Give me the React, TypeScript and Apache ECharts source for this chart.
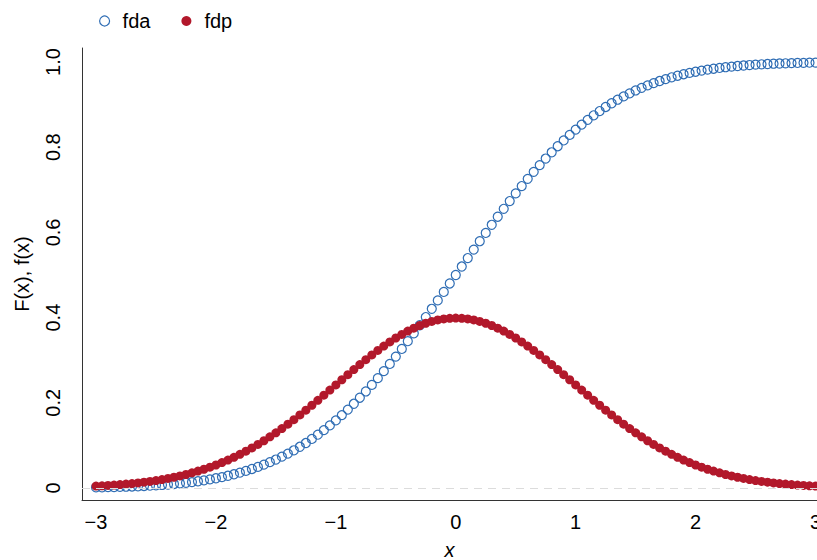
import React, { useEffect, useRef } from "react";
import * as echarts from "echarts";

// Grid of x values, step 0.05 from -3 to 3
const xs = [
  -3.0, -2.95, -2.9, -2.85, -2.8, -2.75, -2.7, -2.65, -2.6, -2.55,
  -2.5, -2.45, -2.4, -2.35, -2.3, -2.25, -2.2, -2.15, -2.1, -2.05,
  -2.0, -1.95, -1.9, -1.85, -1.8, -1.75, -1.7, -1.65, -1.6, -1.55,
  -1.5, -1.45, -1.4, -1.35, -1.3, -1.25, -1.2, -1.15, -1.1, -1.05,
  -1.0, -0.95, -0.9, -0.85, -0.8, -0.75, -0.7, -0.65, -0.6, -0.55,
  -0.5, -0.45, -0.4, -0.35, -0.3, -0.25, -0.2, -0.15, -0.1, -0.05,
  0.0,
  0.05, 0.1, 0.15, 0.2, 0.25, 0.3, 0.35, 0.4, 0.45, 0.5,
  0.55, 0.6, 0.65, 0.7, 0.75, 0.8, 0.85, 0.9, 0.95, 1.0,
  1.05, 1.1, 1.15, 1.2, 1.25, 1.3, 1.35, 1.4, 1.45, 1.5,
  1.55, 1.6, 1.65, 1.7, 1.75, 1.8, 1.85, 1.9, 1.95, 2.0,
  2.05, 2.1, 2.15, 2.2, 2.25, 2.3, 2.35, 2.4, 2.45, 2.5,
  2.55, 2.6, 2.65, 2.7, 2.75, 2.8, 2.85, 2.9, 2.95, 3.0,
];

// fda: cumulative distribution F(x)
const fda = [
  0.0013, 0.0016, 0.0019, 0.0022, 0.0026, 0.003, 0.0035, 0.004, 0.0047, 0.0054,
  0.0062, 0.0071, 0.0082, 0.0094, 0.0107, 0.0122, 0.0139, 0.0158, 0.0179, 0.0202,
  0.0228, 0.0256, 0.0287, 0.0322, 0.0359, 0.0401, 0.0446, 0.0495, 0.0548, 0.0606,
  0.0668, 0.0735, 0.0808, 0.0885, 0.0968, 0.1056, 0.1151, 0.1251, 0.1357, 0.1469,
  0.1587, 0.1711, 0.1841, 0.1977, 0.2119, 0.2266, 0.242, 0.2578, 0.2743, 0.2912,
  0.3085, 0.3264, 0.3446, 0.3632, 0.3821, 0.4013, 0.4207, 0.4404, 0.4602, 0.4801,
  0.5,
  0.5199, 0.5398, 0.5596, 0.5793, 0.5987, 0.6179, 0.6368, 0.6554, 0.6736, 0.6915,
  0.7088, 0.7257, 0.7422, 0.758, 0.7734, 0.7881, 0.8023, 0.8159, 0.8289, 0.8413,
  0.8531, 0.8643, 0.8749, 0.8849, 0.8944, 0.9032, 0.9115, 0.9192, 0.9265, 0.9332,
  0.9394, 0.9452, 0.9505, 0.9554, 0.9599, 0.9641, 0.9678, 0.9713, 0.9744, 0.9772,
  0.9798, 0.9821, 0.9842, 0.9861, 0.9878, 0.9893, 0.9906, 0.9918, 0.9929, 0.9938,
  0.9946, 0.9953, 0.996, 0.9965, 0.997, 0.9974, 0.9978, 0.9981, 0.9984, 0.9987,
];

// fdp: density f(x)
const fdp = [
  0.0044, 0.0051, 0.006, 0.0069, 0.0079, 0.0091, 0.0104, 0.0119, 0.0136, 0.0154,
  0.0175, 0.0198, 0.0224, 0.0252, 0.0283, 0.0317, 0.0355, 0.0396, 0.044, 0.0488,
  0.054, 0.0596, 0.0656, 0.0721, 0.079, 0.0863, 0.094, 0.1023, 0.1109, 0.12,
  0.1295, 0.1394, 0.1497, 0.1604, 0.1714, 0.1826, 0.1942, 0.2059, 0.2179, 0.2299,
  0.242, 0.2541, 0.2661, 0.278, 0.2897, 0.3011, 0.3123, 0.323, 0.3332, 0.3429,
  0.3521, 0.3605, 0.3683, 0.3752, 0.3814, 0.3867, 0.391, 0.3945, 0.397, 0.3984,
  0.3989,
  0.3984, 0.397, 0.3945, 0.391, 0.3867, 0.3814, 0.3752, 0.3683, 0.3605, 0.3521,
  0.3429, 0.3332, 0.323, 0.3123, 0.3011, 0.2897, 0.278, 0.2661, 0.2541, 0.242,
  0.2299, 0.2179, 0.2059, 0.1942, 0.1826, 0.1714, 0.1604, 0.1497, 0.1394, 0.1295,
  0.12, 0.1109, 0.1023, 0.094, 0.0863, 0.079, 0.0721, 0.0656, 0.0596, 0.054,
  0.0488, 0.044, 0.0396, 0.0355, 0.0317, 0.0283, 0.0252, 0.0224, 0.0198, 0.0175,
  0.0154, 0.0136, 0.0119, 0.0104, 0.0091, 0.0079, 0.0069, 0.006, 0.0051, 0.0044,
];

const xTicks = [-3, -2, -1, 0, 1, 2, 3];
const yTicks = [0, 0.2, 0.4, 0.6, 0.8, 1.0];

const BLUE = "#2f6db4";
const RED = "#b2182b";
const FONT = "'Liberation Sans', Arial, Helvetica, sans-serif";

export default function App() {
  const ref = useRef<HTMLDivElement>(null);

  useEffect(() => {
    if (!ref.current) return;
    const chart = echarts.init(ref.current, null, { renderer: "svg" });
    const option = {
      animation: false,
      backgroundColor: "#ffffff",
      textStyle: { fontFamily: FONT, color: "#000" },
      grid: { left: 82, right: 0, top: 48, bottom: 60, outerBoundsMode: "none" },
      legend: {
        left: 99,
        top: 11,
        padding: 0,
        itemWidth: 26,
        itemHeight: 10,
        itemGap: 31,
        textStyle: { fontSize: 20, fontFamily: FONT, color: "#000" },
        data: [
          {
            name: "fda",
            icon: "circle",
            itemStyle: { color: "transparent", borderColor: BLUE, borderWidth: 1.2, opacity: 1 },
          },
          { name: "fdp", icon: "circle", itemStyle: { color: RED, opacity: 1 } },
        ],
      },
      xAxis: {
        type: "value",
        min: -3.117,
        max: 3.0125,
        name: "x",
        nameLocation: "middle",
        nameGap: 40,
        nameTextStyle: { fontSize: 20, fontStyle: "italic", color: "#000", fontFamily: FONT },
        axisLine: { show: true, onZero: false, lineStyle: { color: "#333", width: 1 } },
        axisTick: { show: false },
        splitLine: { show: false },
        axisLabel: {
          customValues: xTicks,
          fontSize: 20,
          color: "#000",
          margin: 12,
          formatter: (v: number) => (v < 0 ? "\u2212" + Math.abs(v) : String(v)),
        },
      },
      yAxis: {
        type: "value",
        min: -0.0282,
        max: 1.0329,
        name: "F(x), f(x)",
        nameLocation: "middle",
        nameGap: 50,
        nameRotate: 90,
        nameTextStyle: { fontSize: 20, color: "#000", fontFamily: FONT },
        axisLine: { show: true, onZero: false, lineStyle: { color: "#333", width: 1 } },
        axisTick: { show: false },
        splitLine: { show: false },
        axisLabel: {
          customValues: yTicks,
          fontSize: 20,
          color: "#000",
          rotate: 90,
          margin: 19,
          formatter: (v: number) => (v === 0 ? "0" : v.toFixed(1)),
        },
      },
      series: [
        {
          name: "fda",
          type: "scatter",
          symbol: "circle",
          symbolSize: 9,
          itemStyle: { color: "transparent", borderColor: BLUE, borderWidth: 1.2, opacity: 1 },
          data: xs.map((x, i) => [x, fda[i]]),
          markLine: {
            silent: true,
            symbol: "none",
            label: { show: false },
            lineStyle: { color: "#dcdcdc", type: [8, 6], width: 1 },
            data: [{ yAxis: 0 }],
          },
          z: 2,
        },
        {
          name: "fdp",
          type: "scatter",
          symbol: "circle",
          symbolSize: 9,
          itemStyle: { color: RED, opacity: 1 },
          data: xs.map((x, i) => [x, fdp[i]]),
          z: 3,
        },
      ],
    };
    chart.setOption(option as any);
    return () => chart.dispose();
  }, []);

  return (
    <div
      ref={ref}
      style={{ position: "absolute", left: 0, top: 0, width: 817, height: 560, background: "#fff" }}
    />
  );
}
